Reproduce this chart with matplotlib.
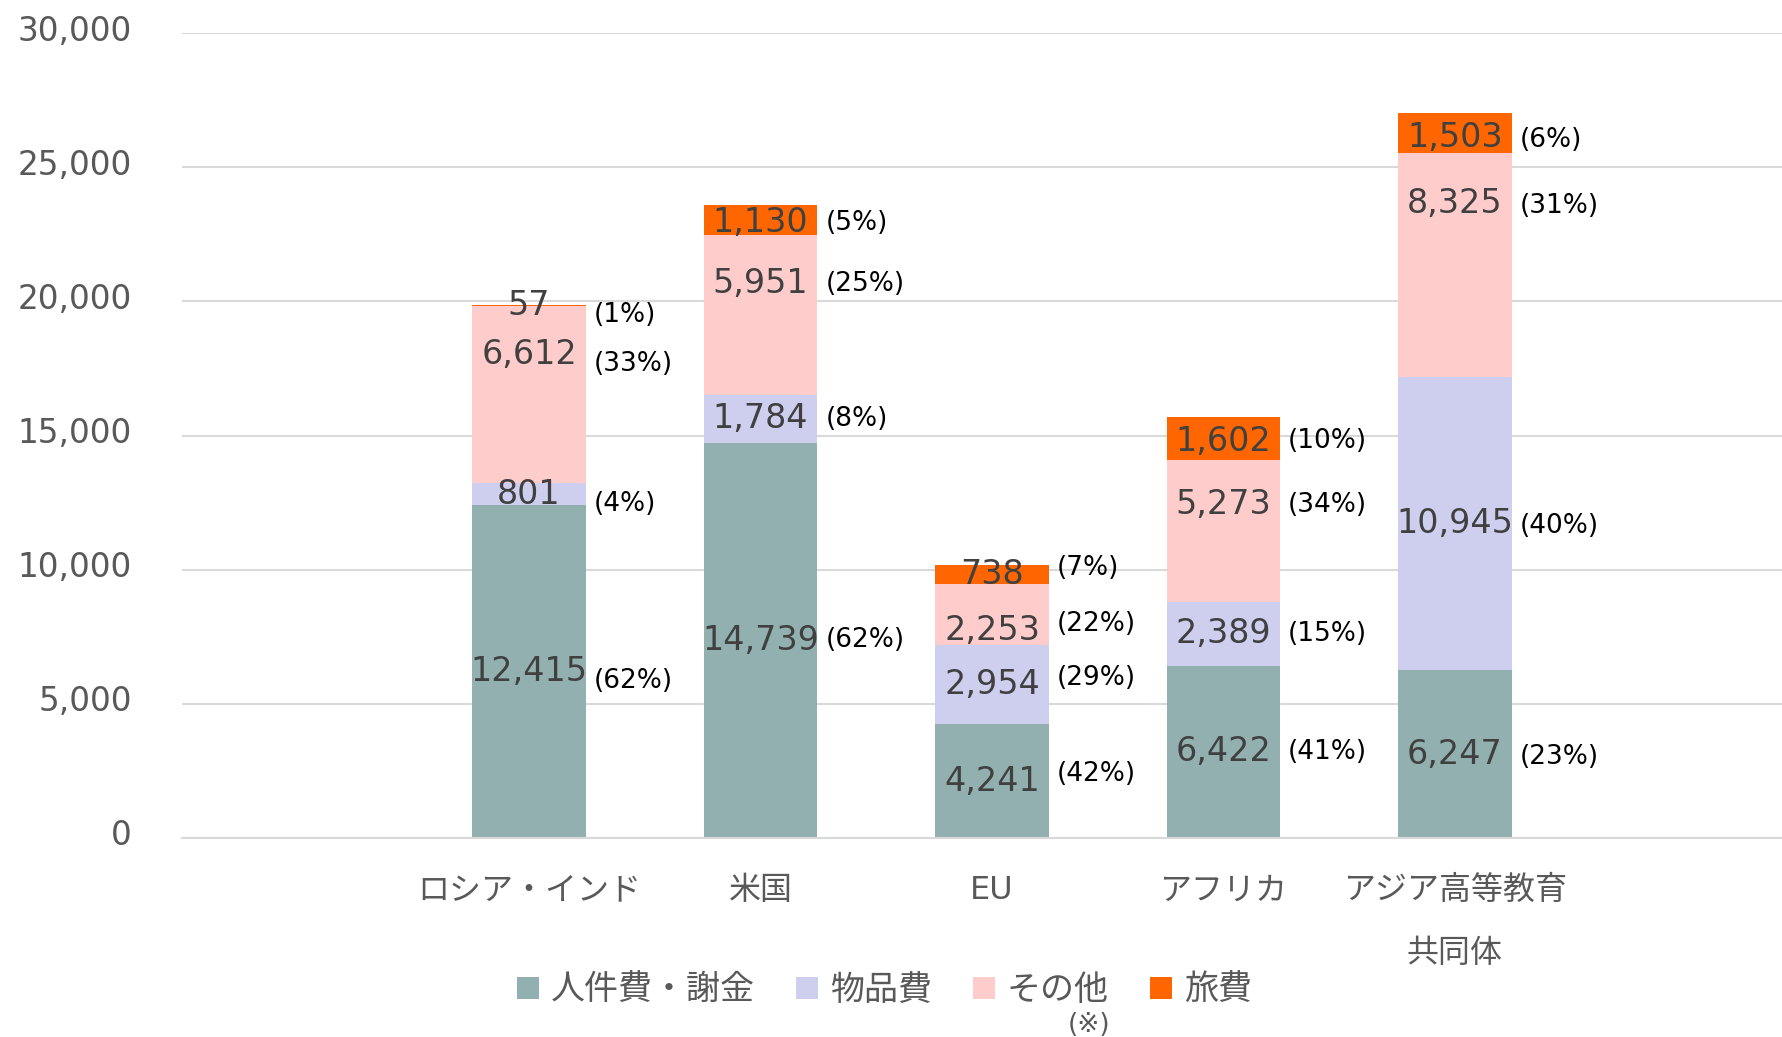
import matplotlib
matplotlib.use("Agg")
import matplotlib.pyplot as plt
import matplotlib.transforms as mtransforms
import numpy as np

# data
categories = ['ロシア・インド', '米国', 'EU', 'アフリカ', 'アジア高等教育\n共同体']
personnel = [12415, 14739, 4241, 6422, 6247]   # 人件費・謝金
goods = [801, 1784, 2954, 2389, 10945]          # 物品費
other = [6612, 5951, 2253, 5273, 8325]          # その他
travel = [57, 1130, 738, 1602, 1503]            # 旅費
personnel_pct = [62, 62, 42, 41, 23]
goods_pct = [4, 8, 29, 15, 40]
other_pct = [33, 25, 22, 34, 31]
travel_pct = [1, 5, 7, 10, 6]

series_names = ['人件費・謝金', '物品費', 'その他', '旅費']
colors = ['#93B0B0', '#CECEEE', '#FFCCCC', '#FF6600']

plt.rcParams['font.family'] = ['DejaVu Sans', 'Noto Sans CJK JP']

fig = plt.figure(figsize=(17.83, 10.37), dpi=100)
ax = fig.add_axes([0.102, 0.192, 0.9087, 0.776])

# one empty slot on each side, like the original
x = np.arange(1, len(categories) + 1)
width = 0.49

values = [personnel, goods, other, travel]
pcts = [personnel_pct, goods_pct, other_pct, travel_pct]
# label nudges (data units) so labels sit where the original puts them
nudge = [[0, 0, 0, 0, 0],
         [0, 0, 0, 0, 0],
         [1500, 1160, -580, 970, 2300],
         [0, -100, 0, -100, -150]]
pct_nudge = [-350, 0, 250, 0, -100]

bottom = np.zeros(len(categories))
for s in range(4):
    v = np.array(values[s])
    ax.bar(x, v, width, bottom=bottom, color=colors[s], label=series_names[s], zorder=2)
    for i in range(len(categories)):
        yl = bottom[i] + v[i] / 2 + nudge[s][i]
        ax.text(x[i], yl, f'{v[i]:,}', ha='center', va='center',
                fontsize=24, color='#404040', zorder=3)
        ax.text(x[i] + width / 2 + 0.035, yl + pct_nudge[i], f'({pcts[s][i]}%)', ha='left',
                va='center', fontsize=19, color='black', zorder=3)
    bottom += v

ax.set_xlim(-0.5, 6.5)
ax.set_ylim(0, 30000)
ax.set_yticks(range(0, 30001, 5000))
ax.set_yticklabels([f'{t:,}' for t in range(0, 30001, 5000)])
ax.set_xticks(x)
ax.set_xticklabels(categories, linespacing=2.3)
ax.yaxis.grid(True, color='#d9d9d9', linewidth=1.5, zorder=0)
ax.set_axisbelow(True)
for sp in ['top', 'right', 'left']:
    ax.spines[sp].set_visible(False)
ax.spines['bottom'].set_color('#d9d9d9')
ax.spines['bottom'].set_linewidth(1.5)
ax.tick_params(axis='y', length=0, pad=36, labelsize=23.5, labelcolor='#595959')
ax.tick_params(axis='x', length=0, pad=27, labelsize=23, labelcolor='#595959')

# y labels sit a little above their gridlines in the original
shift = mtransforms.ScaledTranslation(0, 4 / 72, fig.dpi_scale_trans)
for lab in ax.get_yticklabels():
    lab.set_transform(lab.get_transform() + shift)

leg = fig.legend(loc='center', bbox_to_anchor=(0.496, 0.045), ncol=4, frameon=False,
                 fontsize=24.5, handlelength=0.65, handleheight=0.65, handletextpad=0.35,
                 columnspacing=1.2, labelcolor='#595959')

fig.canvas.draw()
bb = leg.get_texts()[2].get_window_extent()
fig.text((bb.x1 + 2) / fig.bbox.width, 0.012, '(※)', ha='right', va='center',
         fontsize=19, color='#595959')

fig.savefig('out.png', dpi=100)
